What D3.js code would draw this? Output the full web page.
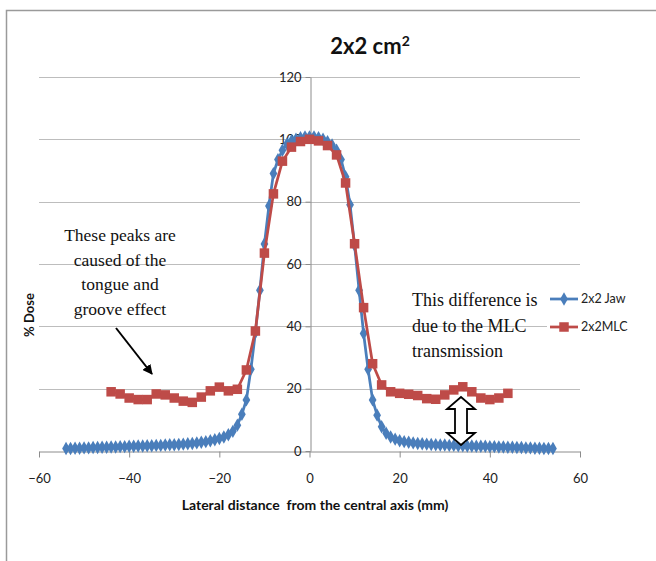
<!DOCTYPE html>
<html>
<head>
<meta charset="utf-8">
<script src="https://cdn.jsdelivr.net/npm/d3@7"></script>
<style>
  html, body { margin: 0; padding: 0; background: #fff; }
  svg { display: block; }
</style>
</head>
<body>
<svg id="chart" width="656" height="561"></svg>
<script>
// ---- data ----
const jawX = [-54,-53,-52,-51,-50,-49,-48,-47,-46,-45,-44,-43,-42,-41,-40,-39,-38,-37,-36,-35,
  -34,-33,-32,-31,-30,-29,-28,-27,-26,-25,-24,-23,-22,-21,-20,-19,-18,-17,-16,-15,
  -14,-13,-12,-11,-10,-9,-8,-7,-6,-5,-4,-3,-2,-1,0,1,2,3,4,5,
  6,7,8,9,10,11,12,13,14,15,16,17,18,19,20,21,22,23,24,25,
  26,27,28,29,30,31,32,33,34,35,36,37,38,39,40,41,42,43,44,45,
  46,47,48,49,50,51,52,53,54];
const jawDose = [0.8,0.8,0.9,0.9,1.0,1.0,1.1,1.1,1.2,1.2,1.3,1.3,1.4,1.4,1.5,1.5,1.6,1.6,1.7,1.7,
  1.8,1.8,1.9,2.0,2.0,2.1,2.2,2.3,2.4,2.6,2.8,3.0,3.3,3.6,4.0,4.5,5.2,6.3,8.3,11.8,
  16.4,26.2,38.0,51.6,66.4,78.6,89.0,93.5,96.5,98.5,99.5,100.0,100.5,100.8,100.8,100.8,100.5,100.0,99.2,98.2,
  96.5,93.5,88.0,79.0,66.0,51.6,37.7,26.2,16.4,11.5,7.8,5.7,4.5,3.8,3.3,3.0,2.8,2.6,2.4,2.3,
  2.2,2.1,2.0,1.9,1.9,1.8,1.8,1.7,1.7,1.6,1.6,1.5,1.5,1.5,1.4,1.4,1.3,1.3,1.2,1.2,
  1.1,1.1,1.0,1.0,0.9,0.9,0.8,0.8,0.8];

const mlcX = [-44,-42,-40,-38,-36,-34,-32,-30,-28,-26,-24,-22,-20,-18,-16,-14,-12,-10,-8,-6,-4,-2,
  0,2,4,6,8,10,12,14,16,18,20,22,24,26,28,30,32,34,36,38,40,42,44];
const mlcDose = [19.0,18.3,17.0,16.5,16.5,18.3,18.0,17.0,16.0,15.6,17.3,19.3,20.5,19.3,19.8,26.0,38.5,63.5,82.5,93.0,97.5,99.3,
  100.0,99.5,98.0,95.0,86.0,66.5,46.0,28.0,21.2,19.0,18.5,18.2,17.8,16.8,16.6,18.0,19.6,20.6,19.0,17.0,16.5,17.0,18.5];

const xTicks = [-60,-40,-20,0,20,40,60];
const yTicks = [0,20,40,60,80,100,120];
const seriesNames = ["2x2 Jaw", "2x2MLC"];
const titleMain = "2x2 cm";
const titleSup = "2";
const xTitle = "Lateral distance  from the central axis (mm)";
const yTitle = "% Dose";
const noteLeft = ["These peaks are", "caused of the", "tongue and", "groove effect"];
const noteRight = ["This difference is", "due to the MLC", "transmission"];

// ---- drawing ----
const svg = d3.select("#chart");
const blue = "#4a7ebb", red = "#be4b48";
const sans = "Lato, 'Open Sans', sans-serif";
const serif = "'Liberation Serif', 'DejaVu Serif', serif";

const x = d3.scaleLinear().domain([-60, 60]).range([39, 580]);
const y = d3.scaleLinear().domain([0, 120]).range([451, 77]);

// frame
svg.append("path").attr("d", "M6.5,561 L6.5,10.5 L656,10.5")
  .attr("fill", "none").attr("stroke", "#9a9a9a").attr("stroke-width", 1.5);

// title
const t = svg.append("text").attr("x", 370).attr("y", 54).attr("text-anchor", "middle")
  .attr("font-family", sans).attr("font-weight", "bold").attr("font-size", 22).attr("fill", "#111");
t.append("tspan").text(titleMain);
t.append("tspan").attr("font-size", 14).attr("dy", -8).text(titleSup);

// gridlines
svg.append("g").selectAll("line").data(yTicks.filter(d => d > 0)).join("line")
  .attr("x1", x(-60)).attr("x2", x(60))
  .attr("y1", d => Math.round(y(d)) + 0.5).attr("y2", d => Math.round(y(d)) + 0.5)
  .attr("stroke", "#bdbdbd").attr("stroke-width", 1);

// x axis
const gx = svg.append("g").attr("transform", `translate(0,${Math.round(y(0)) + 0.5})`)
  .call(d3.axisBottom(x).tickValues(xTicks).tickSize(6).tickSizeOuter(0).tickPadding(16));
gx.select(".domain").attr("stroke", "#8c8c8c");
gx.selectAll(".tick line").attr("stroke", "#8c8c8c");
gx.selectAll(".tick text").attr("font-family", sans).attr("font-size", 13).attr("fill", "#222");

// y axis
const gy = svg.append("g").attr("transform", `translate(${Math.round(x(0)) + 0.5},0)`)
  .call(d3.axisLeft(y).tickValues(yTicks).tickSize(5).tickSizeOuter(0).tickPadding(4));
gy.select(".domain").attr("stroke", "#8c8c8c");
gy.selectAll(".tick line").attr("stroke", "#8c8c8c");
gy.selectAll(".tick text").attr("font-family", sans).attr("font-size", 13).attr("fill", "#222");

// axis titles
svg.append("text").attr("x", 315).attr("y", 510).attr("text-anchor", "middle")
  .attr("font-family", sans).attr("font-weight", "bold").attr("font-size", 14).attr("fill", "#111")
  .attr("xml:space", "preserve").style("white-space", "pre").text(xTitle);
svg.append("text").attr("transform", "translate(34,315) rotate(-90)").attr("text-anchor", "middle")
  .attr("font-family", sans).attr("font-weight", "bold").attr("font-size", 13).attr("fill", "#111")
  .text(yTitle);

// series
const jaw = jawX.map((d, i) => [d, jawDose[i]]);
const mlc = mlcX.map((d, i) => [d, mlcDose[i]]);
const line = d3.line().x(d => x(d[0])).y(d => y(d[1]));

svg.append("path").datum(jaw).attr("d", line).attr("fill", "none")
  .attr("stroke", blue).attr("stroke-width", 2.75).attr("stroke-linejoin", "round");
const diamond = d3.symbol().type(d3.symbolDiamond).size(52);
svg.append("g").selectAll("path").data(jaw).join("path")
  .attr("transform", d => `translate(${x(d[0])},${y(d[1])})`)
  .attr("d", diamond).attr("fill", blue);

svg.append("path").datum(mlc).attr("d", line).attr("fill", "none")
  .attr("stroke", red).attr("stroke-width", 2.75).attr("stroke-linejoin", "round");
svg.append("g").selectAll("rect").data(mlc).join("rect")
  .attr("x", d => x(d[0]) - 4.75).attr("y", d => y(d[1]) - 4.75)
  .attr("width", 9.5).attr("height", 9.5).attr("fill", red);

// legend
const lg = svg.append("g");
lg.append("rect").attr("x", 547).attr("y", 288).attr("width", 85).attr("height", 50).attr("fill", "#fff");
[[blue, 299], [red, 327]].forEach(([c, ly], i) => {
  lg.append("line").attr("x1", 550).attr("x2", 578).attr("y1", ly).attr("y2", ly)
    .attr("stroke", c).attr("stroke-width", 2.75);
  if (i === 0) {
    lg.append("path").attr("transform", `translate(564,${ly})`).attr("d", diamond).attr("fill", c);
  } else {
    lg.append("rect").attr("x", 559.25).attr("y", ly - 4.75).attr("width", 9.5).attr("height", 9.5).attr("fill", c);
  }
  lg.append("text").attr("x", 581).attr("y", ly).attr("dy", "0.35em")
    .attr("font-family", sans).attr("font-size", 12.5).attr("fill", "#222").text(seriesNames[i]);
});

// annotations
const nl = svg.append("text").attr("font-family", serif).attr("font-size", 17.5).attr("fill", "#111")
  .attr("text-anchor", "middle");
noteLeft.forEach((s, i) => nl.append("tspan").attr("x", 120).attr("y", 241 + i * 24.5).text(s));

const nr = svg.append("text").attr("font-family", serif).attr("font-size", 18).attr("fill", "#111");
noteRight.forEach((s, i) => nr.append("tspan").attr("x", 412).attr("y", 306 + i * 25.5).text(s));

// arrow (single)
const defs = svg.append("defs");
defs.append("marker").attr("id", "ah").attr("viewBox", "0 0 10 10").attr("refX", 9).attr("refY", 5)
  .attr("markerWidth", 5).attr("markerHeight", 5).attr("orient", "auto")
  .append("path").attr("d", "M0,0 L10,5 L0,10 Z").attr("fill", "#000");
svg.append("line").attr("x1", 116).attr("y1", 328).attr("x2", 152).attr("y2", 374)
  .attr("stroke", "#000").attr("stroke-width", 2).attr("marker-end", "url(#ah)");

// double arrow (outline)
const ax = 461, aTop = 397, aBot = 445, hw = 14, sw = 6, hh = 12;
svg.append("path")
  .attr("d", `M${ax},${aTop} L${ax + hw},${aTop + hh} L${ax + sw},${aTop + hh} L${ax + sw},${aBot - hh} L${ax + hw},${aBot - hh} L${ax},${aBot} L${ax - hw},${aBot - hh} L${ax - sw},${aBot - hh} L${ax - sw},${aTop + hh} L${ax - hw},${aTop + hh} Z`)
  .attr("fill", "#fff").attr("stroke", "#000").attr("stroke-width", 1.8).attr("stroke-linejoin", "miter");
</script>
</body>
</html>
